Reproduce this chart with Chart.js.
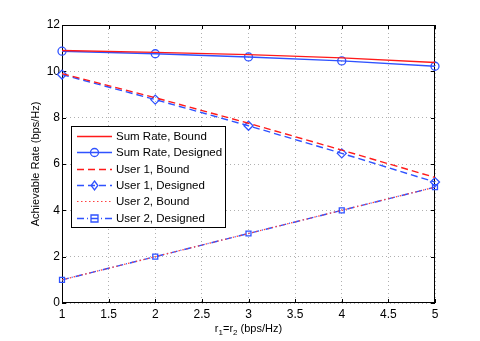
<!DOCTYPE html>
<html>
<head>
<meta charset="utf-8">
<script src="https://cdn.jsdelivr.net/npm/chart.js@4.4.1/dist/chart.umd.min.js"></script>
<style>
  html, body { margin: 0; padding: 0; background: #fff; }
  #box { width: 480px; height: 341px; }
</style>
</head>
<body>
<div id="box"><canvas id="rateChart" width="480" height="341"></canvas></div>
<script>
// x values r1 = r2 (bps/Hz)
var rates = [1, 2, 3, 4, 5];
var xTicks = [1, 1.5, 2, 2.5, 3, 3.5, 4, 4.5, 5];
var yTicks = [0, 2, 4, 6, 8, 10, 12];

var sumBound     = [10.90, 10.82, 10.72, 10.58, 10.38];
var sumDesigned  = [10.87, 10.76, 10.62, 10.45, 10.22];
var user1Bound   = [9.90, 8.86, 7.76, 6.60, 5.42];
var user1Design  = [9.86, 8.78, 7.65, 6.46, 5.22];
var user2Bound   = [1.00, 2.00, 3.00, 4.00, 5.00];
var user2Design  = [1.00, 2.00, 3.00, 4.00, 5.00];

var RED = "#ff1a1a";
var BLUE = "#2f52ff";
var FONT = "Liberation Sans, Arial, sans-serif";

function pts(arr){
    return arr.map(function(v, i){ return {x: rates[i], y: v}; });
}

var series = [
    {label: "Sum Rate, Bound",     data: sumBound,    color: RED,  dash: [],           width: 1.4, marker: false},
    {label: "Sum Rate, Designed",  data: sumDesigned, color: BLUE, dash: [],           width: 1.4, marker: "circle"},
    {label: "User 1, Bound",       data: user1Bound,  color: RED,  dash: [7, 4],       width: 1.4, marker: false},
    {label: "User 1, Designed",    data: user1Design, color: BLUE, dash: [7, 4],       width: 1.4, marker: "rectRot"},
    {label: "User 2, Bound",       data: user2Bound,  color: "#ff4040", dash: [1.5, 2.5], width: 1.2, marker: false},
    {label: "User 2, Designed",    data: user2Design, color: BLUE, dash: [7, 3, 1, 3], width: 1.4, marker: "rect"}
];

var markerSize = {circle: 4, rectRot: 4.5, rect: 3.5};

var datasets = series.map(function(s){
    return {
        label: s.label,
        data: pts(s.data),
        borderColor: s.color,
        backgroundColor: "rgba(0,0,0,0)",
        borderWidth: s.width,
        borderDash: s.dash,
        pointStyle: s.marker || "circle",
        pointRadius: s.marker ? markerSize[s.marker] : 0,
        pointBorderWidth: 1.3,
        pointBorderColor: s.color,
        pointBackgroundColor: "rgba(0,0,0,0)",
        clip: false,
        tension: 0
    };
});

function drawMarker(ctx, style, x, y, r){
    ctx.beginPath();
    if(style == "circle"){
        ctx.arc(x, y, r, 0, Math.PI * 2);
    } else if(style == "rectRot"){
        ctx.moveTo(x, y - r); ctx.lineTo(x + r * 0.75, y);
        ctx.lineTo(x, y + r); ctx.lineTo(x - r * 0.75, y);
        ctx.closePath();
    } else {
        ctx.rect(x - r, y - r, r * 2, r * 2);
    }
    ctx.stroke();
}

var matlabFrame = {
    id: "matlabFrame",
    beforeDatasetsDraw: function(chart){
        var ctx = chart.ctx;
        var a = chart.chartArea;
        var xs = chart.scales.x, ys = chart.scales.y;
        ctx.save();
        // box and inward ticks
        ctx.strokeStyle = "#000";
        ctx.lineWidth = 1;
        ctx.setLineDash([]);
        ctx.strokeRect(Math.round(a.left) + 0.5, Math.round(a.top) + 0.5,
                       Math.round(a.right - a.left) - 1, Math.round(a.bottom - a.top) - 1);
        ctx.beginPath();
        xTicks.forEach(function(t){
            var px = Math.round(xs.getPixelForValue(t)) + 0.5;
            ctx.moveTo(px, a.bottom); ctx.lineTo(px, a.bottom - 4);
            ctx.moveTo(px, a.top); ctx.lineTo(px, a.top + 4);
        });
        yTicks.forEach(function(t){
            var py = Math.round(ys.getPixelForValue(t)) + 0.5;
            ctx.moveTo(a.left, py); ctx.lineTo(a.left + 4, py);
            ctx.moveTo(a.right, py); ctx.lineTo(a.right - 4, py);
        });
        ctx.stroke();
        ctx.restore();
    },
    afterDraw: function(chart){
        var ctx = chart.ctx;
        var a = chart.chartArea;
        ctx.save();

        // axis titles
        ctx.fillStyle = "#000";
        ctx.textBaseline = "alphabetic";
        var parts = [["r", 0], ["1", 1], ["=r", 0], ["2", 1], [" (bps/Hz)", 0]];
        var w = 0;
        parts.forEach(function(p){
            ctx.font = (p[1] ? "8px " : "11px ") + FONT;
            w += ctx.measureText(p[0]).width;
        });
        var tx = (a.left + a.right) / 2 - w / 2;
        var ty = 332;
        parts.forEach(function(p){
            ctx.font = (p[1] ? "8px " : "11px ") + FONT;
            ctx.fillText(p[0], tx, ty + (p[1] ? 3 : 0));
            tx += ctx.measureText(p[0]).width;
        });

        ctx.save();
        ctx.translate(39, (a.top + a.bottom) / 2);
        ctx.rotate(-Math.PI / 2);
        ctx.font = "11px " + FONT;
        ctx.textAlign = "center";
        ctx.fillText("Achievable Rate (bps/Hz)", 0, 0);
        ctx.restore();

        // legend
        var lx = 71, ly = 126, lw = 154, lh = 101;
        ctx.fillStyle = "#fff";
        ctx.fillRect(lx, ly, lw, lh);
        ctx.strokeStyle = "#000";
        ctx.lineWidth = 1;
        ctx.strokeRect(lx + 0.5, ly + 0.5, lw, lh);
        series.forEach(function(s, i){
            var cy = Math.round(136 + i * 16.3) + 0.5;
            ctx.strokeStyle = s.color;
            ctx.lineWidth = s.width;
            ctx.setLineDash(s.dash);
            ctx.beginPath();
            ctx.moveTo(77, cy); ctx.lineTo(112, cy);
            ctx.stroke();
            ctx.setLineDash([]);
            if(s.marker){
                ctx.lineWidth = 1.3;
                drawMarker(ctx, s.marker, 94.5, cy, markerSize[s.marker]);
            }
            ctx.fillStyle = "#000";
            ctx.font = "11.5px " + FONT;
            ctx.textAlign = "left";
            ctx.textBaseline = "middle";
            ctx.fillText(s.label, 116, cy);
        });
        ctx.restore();
    }
};

var rateChart = new Chart(document.getElementById("rateChart"), {
    type: "line",
    data: { datasets: datasets },
    plugins: [matlabFrame],
    options: {
        responsive: false,
        animation: false,
        layout: { padding: { left: 0, right: 45, top: 25, bottom: 0 } },
        plugins: { legend: { display: false }, tooltip: { enabled: false } },
        scales: {
            x: {
                type: "linear", min: 1, max: 5,
                afterFit: function(s){ s.height = 38; },
                afterBuildTicks: function(s){ s.ticks = xTicks.map(function(v){ return {value: v}; }); },
                border: { display: false, dash: [1, 3] },
                grid: { color: "#b0b0b0", drawTicks: false, lineWidth: 1 },
                ticks: { color: "#000", font: { size: 12, family: FONT }, padding: 4, maxRotation: 0,
                         callback: function(v){ return String(v); } }
            },
            y: {
                min: 0, max: 12,
                afterFit: function(s){ s.width = 62; },
                afterBuildTicks: function(s){ s.ticks = yTicks.map(function(v){ return {value: v}; }); },
                border: { display: false, dash: [1, 3] },
                grid: { color: "#b0b0b0", drawTicks: false, lineWidth: 1 },
                ticks: { color: "#000", font: { size: 12, family: FONT }, padding: 2,
                         callback: function(v){ return String(v); } }
            }
        }
    }
});
</script>
</body>
</html>
